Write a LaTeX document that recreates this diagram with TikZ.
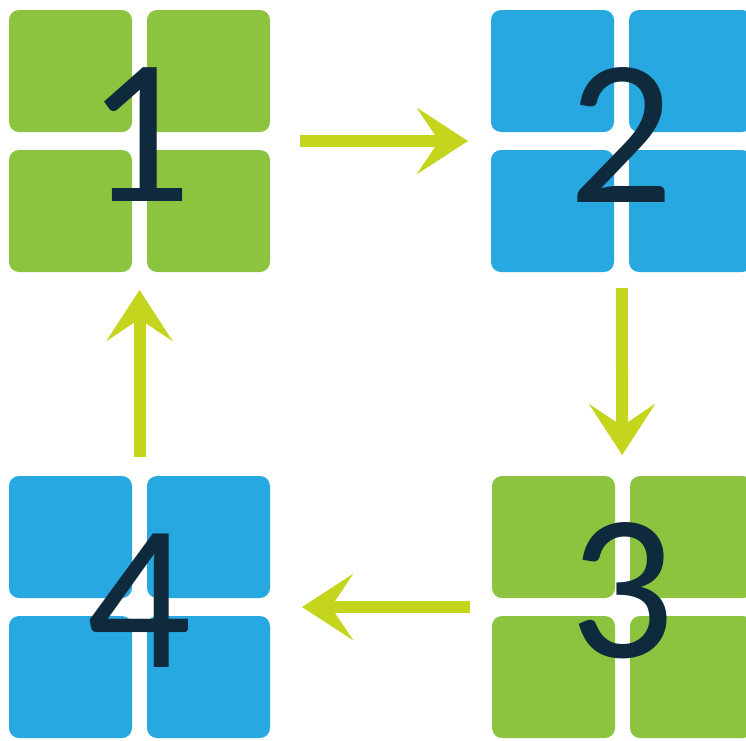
\documentclass[tikz,border=0pt]{standalone}
\usepackage{fontspec}
\setmainfont{Carlito}
\usetikzlibrary{arrows.meta,backgrounds,calc}

\definecolor{tilegreen}{HTML}{8DC43F}
\definecolor{tileblue}{HTML}{27A8E0}
\definecolor{arrowlime}{HTML}{C5D41C}
\definecolor{digitnavy}{HTML}{0E2A3C}

\newcommand{\tilegrid}[2]{%
  \foreach \sx in {-1,1}
    \foreach \sy in {-1,1}
      \fill[#2, rounded corners=10pt] ($(#1)+(\sx*69-61.5,\sy*70-61)$) rectangle ++(123,122);
}

\tikzset{
  block/.style={inner sep=0pt, outer sep=0pt, minimum width=261pt, minimum height=262pt,
    text=digitnavy, font=\fontsize{208}{208}\selectfont, text depth=12pt},
  flow/.style={draw=arrowlime, line width=12pt,
    -{Stealth[length=51pt,width=66pt,inset=22pt]}}
}

\begin{document}
\begin{tikzpicture}[x=1pt,y=-1pt]
         \useasboundingbox (0,0) rectangle (746,740);
         \node[block] (b1) at (139.5,141) {1};
         \node[block] (b2) at (621.5,141) {2};
         \node[block, text depth=34pt] (b3) at (622.5,607) {3};
         \node[block] (b4) at (139.5,607) {4};
         \begin{scope}[on background layer]
            \tilegrid{b1}{tilegreen}
            \tilegrid{b2}{tileblue}
            \tilegrid{b3}{tilegreen}
            \tilegrid{b4}{tileblue}
         \end{scope}
         \draw[flow, shorten <=30pt, shorten >=23pt] (b1) -- (b2);
         \draw[flow, shorten <=16pt, shorten >=21pt] (b2) -- (b3);
         \draw[flow, shorten <=22pt, shorten >=32pt] (b3) -- (b4);
         \draw[flow, shorten <=19pt, shorten >=18pt] (b4) -- (b1);
      \end{tikzpicture}
\end{document}
